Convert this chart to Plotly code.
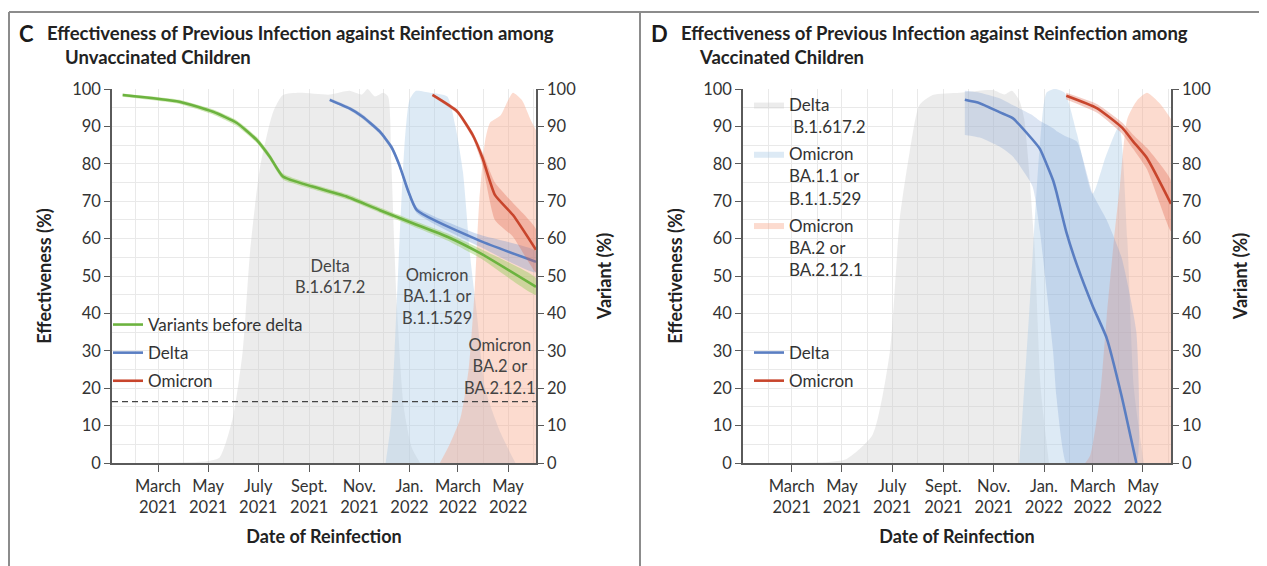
import plotly.graph_objects as go

W, H = 1267, 566          # browser window
OFF = 8                   # default page (body) margin
FW, FH = W - OFF, H - OFF  # figure size so that it fills the window
FONT = "Lato"
TXT = "#333333"
AX = "#5a5a5a"
GRID = "#e9e9e9"


def px2x(px):
    return (px - OFF) / FW


def py2y(py):
    return 1 - (py - OFF) / FH


# ---------------- shared axis labels ----------------
TICK_DATES = ["2021-03-01", "2021-05-01", "2021-07-01", "2021-09-01",
              "2021-11-01", "2022-01-01", "2022-03-01", "2022-05-01"]
TICK_TEXT = ["March<br>2021", "May<br>2021", "July<br>2021", "Sept.<br>2021",
             "Nov.<br>2021", "Jan.<br>2022", "March<br>2022", "May<br>2022"]
Y_TICKS = [0, 10, 20, 30, 40, 50, 60, 70, 80, 90, 100]

# ---------------- Panel C: unvaccinated children ----------------
C_PRE_DATES = ["2021-01-17", "2021-03-27", "2021-05-07", "2021-06-05", "2021-06-29",
               "2021-07-15", "2021-07-31", "2021-09-05", "2021-10-17", "2021-11-26",
               "2022-01-05", "2022-02-16", "2022-03-28", "2022-06-04"]
C_PRE_EST = [98.4, 96.6, 93.9, 90.9, 86.4, 81.9, 76.6, 73.9, 71.2, 67.6, 64.1, 60.5, 56.1, 47.1]
C_PRE_LO = [97.9, 96.0, 93.2, 90.1, 85.6, 81.1, 75.8, 73.2, 70.5, 66.9, 63.3, 59.5, 54.8, 45.0]
C_PRE_HI = [98.8, 97.1, 94.5, 91.6, 87.2, 82.7, 77.4, 74.6, 71.9, 68.3, 64.9, 61.4, 57.3, 49.4]

C_DEL_DATES = ["2021-09-26", "2021-10-20", "2021-11-05", "2021-11-26", "2021-12-10",
               "2021-12-20", "2021-12-30", "2022-01-10", "2022-03-28", "2022-06-04"]
C_DEL_EST = [97.1, 94.8, 92.6, 88.6, 84.5, 79.5, 73.0, 67.6, 59.4, 53.8]
C_DEL_LO = [96.7, 94.3, 92.0, 88.0, 83.8, 78.7, 72.2, 66.8, 57.8, 51.0]
C_DEL_HI = [97.5, 95.3, 93.2, 89.2, 85.2, 80.3, 73.8, 68.4, 61.0, 56.6]

C_OMI_DATES = ["2022-01-29", "2022-02-28", "2022-03-19", "2022-03-31", "2022-04-15",
               "2022-05-07", "2022-06-04"]
C_OMI_EST = [98.4, 94.0, 87.7, 81.5, 71.7, 66.3, 57.0]
C_OMI_LO = [98.0, 93.4, 86.8, 79.5, 65.0, 60.5, 51.0]
C_OMI_HI = [98.8, 94.6, 88.6, 83.0, 75.0, 69.5, 62.5]

C_VAR_DELTA_DATES = ["2021-01-04", "2021-04-29", "2021-05-15", "2021-05-31", "2021-06-12",
                     "2021-06-21", "2021-07-03", "2021-07-19", "2021-07-31", "2021-08-20",
                     "2021-09-26", "2021-10-20", "2021-11-04", "2021-11-11", "2021-11-20",
                     "2021-11-30", "2021-12-06", "2021-12-10", "2021-12-16", "2021-12-25",
                     "2022-01-04", "2022-01-14"]
C_VAR_DELTA = [0, 0.5, 1.5, 12, 29.7, 56.4, 78.9, 93.8, 98.4, 99, 98.5, 99.5, 98.5, 100,
               98, 99, 98, 80, 45, 15, 4, 0]

C_VAR_BA1_DATES = ["2021-12-03", "2021-12-09", "2021-12-14", "2021-12-20", "2021-12-26",
                   "2022-01-01", "2022-01-09", "2022-01-26", "2022-02-16", "2022-02-26",
                   "2022-03-07", "2022-03-16", "2022-03-24", "2022-04-03", "2022-04-22",
                   "2022-05-10"]
C_VAR_BA1 = [0, 10, 30, 60, 85, 97, 99.5, 99, 98, 90, 78, 55, 40, 20, 8, 0]

C_VAR_BA2_DATES = ["2022-02-07", "2022-02-19", "2022-03-04", "2022-03-14", "2022-03-21",
                   "2022-03-27", "2022-04-03", "2022-04-09", "2022-04-22", "2022-05-01",
                   "2022-05-07", "2022-05-18", "2022-05-28", "2022-06-04"]
C_VAR_BA2 = [0, 5, 12, 25, 45, 70, 86, 91, 93, 97, 99, 97, 92, 89]

C_THRESHOLD = 16.4

# ---------------- Panel D: vaccinated children ----------------
D_DEL_DATES = ["2021-09-27", "2021-10-15", "2021-11-08", "2021-11-24", "2021-12-18",
               "2021-12-27", "2022-01-12", "2022-01-16", "2022-01-28", "2022-02-10",
               "2022-03-01", "2022-03-18", "2022-04-05", "2022-04-23"]
D_DEL_EST = [97.1, 96.2, 93.8, 92.2, 86.5, 84.0, 75.6, 72.5, 61.8, 52.9, 42.0, 33.4, 18.0, 0.0]
D_DEL_LO = [87.7, 87.0, 84.6, 82.0, 74.0, 62.0, 30.0, 18.0, 0, 0, 0, 0, 0, 0]
D_DEL_HI = [99.5, 99.0, 97.5, 95.7, 93.0, 91.5, 89.5, 88.8, 87.3, 85.9, 72.0, 65.0, 55.0, 35.0]

D_OMI_DATES = ["2022-01-28", "2022-03-06", "2022-04-06", "2022-04-19", "2022-05-06", "2022-06-04"]
D_OMI_EST = [98.2, 94.9, 89.6, 86.0, 81.5, 69.3]
D_OMI_LO = [97.2, 93.7, 88.0, 84.0, 78.5, 62.0]
D_OMI_HI = [99.0, 96.0, 91.0, 87.8, 84.2, 75.5]

D_VAR_DELTA_DATES = ["2021-01-01", "2021-04-15", "2021-05-06", "2021-06-07", "2021-06-28",
                     "2021-07-10", "2021-07-22", "2021-08-03", "2021-08-19", "2021-09-21",
                     "2021-10-31", "2021-11-14", "2021-11-23", "2021-12-02", "2021-12-08",
                     "2021-12-20", "2021-12-28", "2022-01-07"]
D_VAR_DELTA = [0, 0.3, 1, 7.5, 29.6, 65, 83, 95.7, 98.4, 99, 99.7, 98.5, 99.5, 97, 92, 60, 20, 0]

D_VAR_BA1_DATES = ["2021-12-02", "2021-12-14", "2021-12-27", "2022-01-04", "2022-01-14",
                   "2022-01-26", "2022-02-10", "2022-03-01", "2022-03-17", "2022-04-02",
                   "2022-04-12", "2022-04-20", "2022-05-02"]
D_VAR_BA1 = [0, 40, 85, 99, 100, 99, 88, 72, 82, 90, 60, 20, 0]

D_VAR_BA2_DATES = ["2022-02-20", "2022-02-26", "2022-03-10", "2022-03-18", "2022-03-27",
                   "2022-04-03", "2022-04-12", "2022-04-24", "2022-05-06", "2022-05-22",
                   "2022-06-04"]
D_VAR_BA2 = [0, 2, 18, 39, 60, 74, 92, 97, 99, 96, 92]

# ---------------- styles ----------------
GREEN, GREEN_BAND = "#6cb33f", "rgba(150,205,95,0.45)"
BLUE, BLUE_BAND = "#5a7ec2", "rgba(100,140,205,0.30)"
BLUE_BAND_D = "rgba(110,145,205,0.24)"
RED, RED_BAND = "#c8452c", "rgba(222,95,70,0.32)"
GRAY_VAR = "rgba(205,205,205,0.38)"
BLUE_VAR = "rgba(175,205,230,0.42)"
PINK_VAR = "rgba(248,165,135,0.40)"

fig = go.Figure()


def add_variant(dates, vals, color, name, xa, ya, legend=None):
    fig.add_trace(go.Scatter(
        x=dates, y=vals, mode="lines", fill="tozeroy", fillcolor=color,
        line=dict(width=0, shape="spline", smoothing=0.6, color=color),
        name=name, showlegend=legend is not None, legend=legend or "legend",
        legendgroup=name, hoverinfo="skip", xaxis=xa, yaxis=ya))


def add_estimate(dates, est, lo, hi, color, band, name, xa, ya, legend):
    fig.add_trace(go.Scatter(
        x=dates + dates[::-1], y=hi + lo[::-1], mode="lines", fill="toself",
        fillcolor=band, line=dict(width=0, shape="spline", smoothing=0.5),
        showlegend=False, hoverinfo="skip", xaxis=xa, yaxis=ya))
    fig.add_trace(go.Scatter(
        x=dates, y=est, mode="lines", name=name,
        line=dict(color=color, width=2.6, shape="spline", smoothing=0.5),
        legend=legend, legendgroup=legend + name, showlegend=True,
        xaxis=xa, yaxis=ya))


# Panel C
add_variant(C_VAR_DELTA_DATES, C_VAR_DELTA, GRAY_VAR, "Delta B.1.617.2", "x", "y")
add_variant(C_VAR_BA1_DATES, C_VAR_BA1, BLUE_VAR, "Omicron BA.1.1 or B.1.1.529", "x", "y")
add_variant(C_VAR_BA2_DATES, C_VAR_BA2, PINK_VAR, "Omicron BA.2 or BA.2.12.1", "x", "y")
add_estimate(C_PRE_DATES, C_PRE_EST, C_PRE_LO, C_PRE_HI, GREEN, GREEN_BAND,
             "Variants before delta", "x", "y2", "legend")
add_estimate(C_DEL_DATES, C_DEL_EST, C_DEL_LO, C_DEL_HI, BLUE, BLUE_BAND,
             "Delta", "x", "y2", "legend")
add_estimate(C_OMI_DATES, C_OMI_EST, C_OMI_LO, C_OMI_HI, RED, RED_BAND,
             "Omicron", "x", "y2", "legend")

# Panel D
add_variant(D_VAR_DELTA_DATES, D_VAR_DELTA, GRAY_VAR, "Delta<br>\u00a0B.1.617.2", "x2", "y3", "legend2")
add_variant(D_VAR_BA1_DATES, D_VAR_BA1, BLUE_VAR, "Omicron<br>BA.1.1 or<br>B.1.1.529", "x2", "y3", "legend2")
add_variant(D_VAR_BA2_DATES, D_VAR_BA2, PINK_VAR, "Omicron<br>BA.2 or<br>BA.2.12.1", "x2", "y3", "legend2")
add_estimate(D_DEL_DATES, D_DEL_EST, D_DEL_LO, D_DEL_HI, BLUE, BLUE_BAND_D,
             "Delta", "x2", "y4", "legend3")
add_estimate(D_OMI_DATES, D_OMI_EST, D_OMI_LO, D_OMI_HI, RED, RED_BAND,
             "Omicron", "x2", "y4", "legend3")

# ---------------- axes ----------------
Y_DOM = [py2y(463), py2y(89)]
XC_DOM = [px2x(112), px2x(536)]
XD_DOM = [px2x(743), px2x(1171)]

tickfont = dict(family=FONT, size=16.5, color=TXT)
titlefont = dict(family=FONT, size=18, color="#222222", weight="bold")


def xaxis(dom, anchor, rng):
    return dict(domain=dom, anchor=anchor, type="date", range=rng, automargin=False,
                tickmode="array", tickvals=TICK_DATES, ticktext=TICK_TEXT,
                ticks="outside", ticklen=7, tickwidth=1.3, tickcolor=AX,
                showline=True, linecolor=AX, linewidth=1.5,
                showgrid=True, gridcolor=GRID, gridwidth=1, zeroline=False,
                minor=dict(dtick="M1", tick0="2021-01-01", showgrid=True,
                           gridcolor=GRID, gridwidth=1, ticks=""),
                tickfont=tickfont,
                title=dict(text="Date of Reinfection", font=titlefont, standoff=14))


def yaxis(side, anchor, title, overlay=None, grid=False, standoff=16):
    d = dict(anchor=anchor, side=side, range=[0, 100], tickmode="array", automargin=False,
             tickvals=Y_TICKS, ticks="outside", ticklen=6, tickwidth=1.3,
             tickcolor=AX, showline=True, linecolor=AX, linewidth=1.5,
             zeroline=False, tickfont=tickfont, showgrid=grid, gridcolor=GRID,
             title=dict(text=title, font=titlefont, standoff=standoff))
    if grid:
        d["minor"] = dict(dtick=5, showgrid=True, gridcolor=GRID, ticks="")
    if overlay:
        d["overlaying"] = overlay
    else:
        d["domain"] = Y_DOM
    return d


LEG_FONT = dict(family=FONT, size=17, color=TXT)
fig.update_layout(
    width=FW, height=FH, autosize=False,
    margin=dict(l=0, r=0, t=0, b=0, pad=0),
    paper_bgcolor="white", plot_bgcolor="white",
    font=dict(family=FONT, color=TXT),
    xaxis=xaxis(XC_DOM, "y", ["2021-01-04", "2022-06-04"]),
    xaxis2=xaxis(XD_DOM, "y3", ["2021-01-01", "2022-06-04"]),
    yaxis=yaxis("right", "x", "Variant (%)", grid=True, standoff=23),
    yaxis2=yaxis("left", "x", "Effectiveness (%)", overlay="y"),
    yaxis3=yaxis("right", "x2", "Variant (%)", grid=True, standoff=24),
    yaxis4=yaxis("left", "x2", "Effectiveness (%)", overlay="y3"),
    legend=dict(x=px2x(108), y=py2y(307), xanchor="left", yanchor="top",
                bgcolor="rgba(0,0,0,0)", font=LEG_FONT,
                traceorder="grouped", tracegroupgap=3, itemwidth=30),
    legend2=dict(x=px2x(749), y=py2y(87), xanchor="left", yanchor="top",
                 bgcolor="rgba(0,0,0,0)", font=LEG_FONT,
                 traceorder="grouped", tracegroupgap=2, itemwidth=30, valign="top"),
    legend3=dict(x=px2x(749), y=py2y(335), xanchor="left", yanchor="top",
                 bgcolor="rgba(0,0,0,0)", font=LEG_FONT,
                 traceorder="grouped", tracegroupgap=3, itemwidth=30),
    showlegend=True,
)

# threshold dashed line (panel C)
fig.add_shape(type="line", xref="x domain", yref="y2", x0=0, x1=1,
              y0=C_THRESHOLD, y1=C_THRESHOLD,
              line=dict(color="#444444", width=1.4, dash="6px,4px"))

# panel frame lines
FRAME = dict(color="#8c8c8c", width=2)
fig.add_shape(type="line", xref="paper", yref="paper", x0=px2x(9), x1=1,
              y0=py2y(12), y1=py2y(12), line=FRAME)
fig.add_shape(type="line", xref="paper", yref="paper", x0=px2x(9), x1=px2x(9),
              y0=0, y1=py2y(12), line=FRAME)
fig.add_shape(type="line", xref="paper", yref="paper", x0=px2x(640), x1=px2x(640),
              y0=0, y1=py2y(12), line=FRAME)

# variant labels inside panel C
VAR_LABELS_C = [("Delta<br>B.1.617.2", "2021-09-26", 50.0),
                ("Omicron<br>BA.1.1 or<br>B.1.1.529", "2022-02-04", 44.4),
                ("Omicron<br>BA.2 or<br>BA.2.12.1", "2022-04-21", 25.9)]
for txt, xd, yv in VAR_LABELS_C:
    fig.add_annotation(x=xd, y=yv, xref="x", yref="y2", text=txt, showarrow=False,
                       font=dict(family=FONT, size=16.5, color="#444444"),
                       align="center", xanchor="center", yanchor="middle")


# titles
def title(letter, lx, tx, tx2, line1, line2):
    fig.add_annotation(x=px2x(lx), y=py2y(33), xref="paper", yref="paper",
                       text="<b>%s</b>" % letter, showarrow=False, xanchor="left",
                       yanchor="middle", font=dict(family=FONT, size=22, color="#1a1a1a"))
    fig.add_annotation(x=px2x(tx), y=py2y(33), xref="paper", yref="paper",
                       text="<b>%s</b>" % line1, showarrow=False, xanchor="left",
                       yanchor="middle", font=dict(family=FONT, size=18.5, color="#222222"))
    fig.add_annotation(x=px2x(tx2), y=py2y(57), xref="paper", yref="paper",
                       text="<b>%s</b>" % line2, showarrow=False, xanchor="left",
                       yanchor="middle", font=dict(family=FONT, size=18.5, color="#222222"))


title("C", 17, 45, 63, "Effectiveness of Previous Infection against Reinfection among",
      "Unvaccinated Children")
title("D", 649, 679, 697, "Effectiveness of Previous Infection against Reinfection among",
      "Vaccinated Children")

fig.write_html("out.html")
